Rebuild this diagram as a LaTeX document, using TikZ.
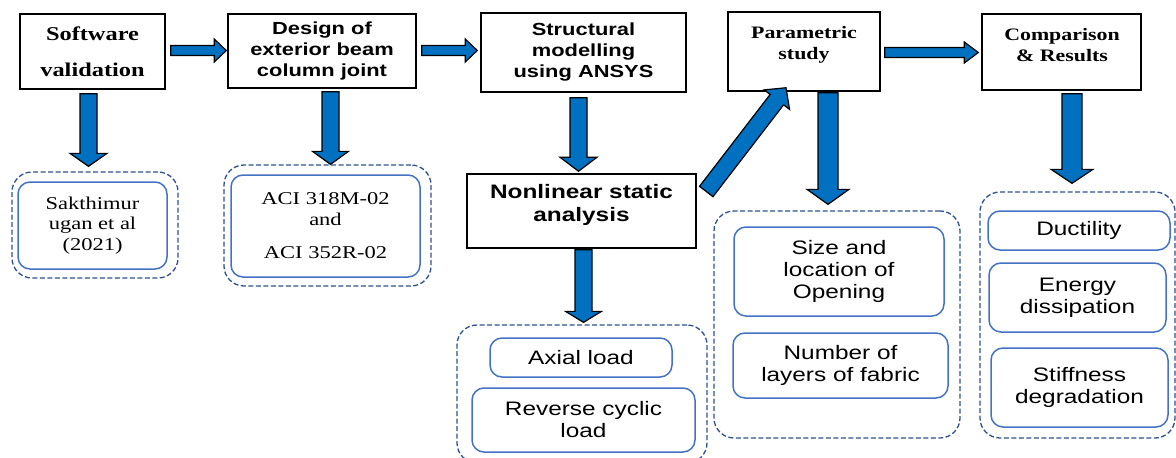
\documentclass[tikz,border=0pt]{standalone}
\usepackage{fontspec}
\usetikzlibrary{calc}
\newfontfamily\serifF[FakeStretch=1.25]{Liberation Serif}
\newfontfamily\sansF[FakeStretch=1.25]{Liberation Sans}
\definecolor{abl}{HTML}{0070C0}
\definecolor{dashc}{HTML}{2F528F}
\definecolor{inb}{HTML}{4472C4}
\newcommand\blockarrow[5]{%
  \path (#1) coordinate (ba-s) (#2) coordinate (ba-e);
  \coordinate (ba-h) at ($(ba-e)!#5!(ba-s)$);
  \draw[barrow] ($(ba-s)!#3!90:(ba-e)$) -- ($(ba-h)!#3!-90:(ba-s)$) -- ($(ba-h)!#4!-90:(ba-s)$) -- (ba-e) -- ($(ba-h)!#4!90:(ba-s)$) -- ($(ba-h)!#3!90:(ba-s)$) -- ($(ba-s)!#3!-90:(ba-e)$) -- cycle;
}
\tikzset{
  box/.style={draw=black, line width=1.5pt, inner sep=0pt, align=center},
  grp/.style={draw=dashc, dash pattern=on 5pt off 2.5pt, line width=1.3pt, rounded corners=20pt, inner sep=0pt},
  inr/.style={draw=inb, line width=1.5pt, rounded corners=12pt, inner sep=0pt, align=center},
  barrow/.style={fill=abl, draw=black, line width=1.2pt, line join=miter},
  sbig/.style={font=\serifF\bfseries\fontsize{19.5}{36}\selectfont, align=center},
  smid/.style={font=\serifF\bfseries\fontsize{17.5}{21}\selectfont, align=center},
  sreg/.style={font=\serifF\fontsize{18}{20.5}\selectfont, align=center},
  abold/.style={font=\sansF\bfseries\fontsize{17.5}{21}\selectfont, align=center},
  abig/.style={font=\sansF\bfseries\fontsize{19.5}{23}\selectfont, align=center},
  areg/.style={font=\sansF\fontsize{19.5}{22}\selectfont, align=center},
}
\begin{document}
\begin{tikzpicture}[x=1pt,y=-1pt]
\useasboundingbox (0,0) rectangle (1176,458);
\fill[white] (0,0) rectangle (1176,458);
\clip (0,0) rectangle (1176,458);
% top boxes
\node[box, sbig, minimum width=145, minimum height=75] (sw) at (92.5,51.5) {Software\\validation};
\node[box, abold, minimum width=188, minimum height=74] (dv) at (322,51) {Design of\\exterior beam\\column joint};
\node[box, abold, minimum width=205, minimum height=79] (sm) at (583.5,52.5) {Structural\\modelling\\using ANSYS};
\node[box, minimum width=229, minimum height=74] (nsa) at (581.5,211) {};
\node[abig] (nsat) at (581.5,205) {Nonlinear static\\analysis};
\node[box, minimum width=152, minimum height=79] (ps) at (804,51.5) {};
\node[smid] (pst) at (804,45) {Parametric\\study};
\node[box, minimum width=159, minimum height=76] (cr) at (1061.5,52) {};
\node[smid] (crt) at (1062,45) {Comparison\\\& Results};
% groups
\node[grp, minimum width=166, minimum height=106] (g1) at (95,225) {};
\node[inr, sreg, minimum width=149, minimum height=87] (i1) at (92.5,225.5) {Sakthimur\\ugan et al\\(2021)};
\node[grp, minimum width=207, minimum height=121] (g2) at (327.5,225.5) {};
\node[inr, sreg, minimum width=189, minimum height=102] (i2) at (325.5,226) {ACI 318M-02\\and\\[13pt]ACI 352R-02};
\node[grp, minimum width=250, minimum height=138] (g3) at (582,394) {};
\node[inr, areg, minimum width=182, minimum height=39] (a1) at (581,357.5) {Axial load};
\node[inr, areg, minimum width=223, minimum height=64] (a2) at (583.5,420) {Reverse cyclic\\load};
\node[grp, minimum width=246, minimum height=227] (g4) at (837,324.5) {};
\node[inr, areg, minimum width=210, minimum height=89] (p1) at (839,271.5) {Size and\\location of\\Opening};
\node[inr, areg, minimum width=215, minimum height=65] (p2) at (840.5,365.5) {Number of\\layers of fabric};
\node[grp, minimum width=195, minimum height=246] (g5) at (1077.5,315) {};
\node[inr, areg, minimum width=182, minimum height=39] (r1) at (1079,230.5) {Ductility};
\node[inr, areg, minimum width=177, minimum height=69] (r2) at (1077.5,297.5) {Energy\\dissipation};
\node[inr, areg, minimum width=177, minimum height=79] (r3) at (1079.5,387.5) {Stiffness\\degradation};
% horizontal arrows
\blockarrow{$(sw.east)+(5,-1)$}{$(dv.west)+(-1,-0.5)$}{5pt}{11.5pt}{12pt}
\blockarrow{$(dv.east)+(5,-0.5)$}{$(sm.west)+(-3,-2)$}{5pt}{11.5pt}{12pt}
\blockarrow{$(ps.east)+(4,1)$}{$(cr.west)+(-3,0.5)$}{5pt}{10.5pt}{14pt}
% down arrows
\blockarrow{$(sw.south)+(-4,4)$}{$(g1.north)+(-6.5,-5)$}{8.5pt}{18.5pt}{13pt}
\blockarrow{$(dv.south)+(8.5,3)$}{$(g2.north)+(3,0)$}{8.5pt}{18pt}{13pt}
\blockarrow{$(sm.south)+(-5,5)$}{$(nsa.north)+(-3,-2)$}{8.5pt}{18.5pt}{14pt}
\blockarrow{$(nsa.south)+(2,1)$}{$(g3.north)+(1.5,-2)$}{8.5pt}{18pt}{11pt}
\blockarrow{$(ps.south)+(24,1)$}{$(g4.north)+(-9,-6)$}{10pt}{21pt}{15pt}
\blockarrow{$(cr.south)+(10.5,3)$}{$(g5.north)+(-5.5,-8)$}{10pt}{21pt}{14pt}
% diagonal arrow
\blockarrow{$(nsa.east)+(9.5,-19.5)$}{$(ps.south)+(-18,-4)$}{8.5pt}{16pt}{15pt}
\end{tikzpicture}
\end{document}
